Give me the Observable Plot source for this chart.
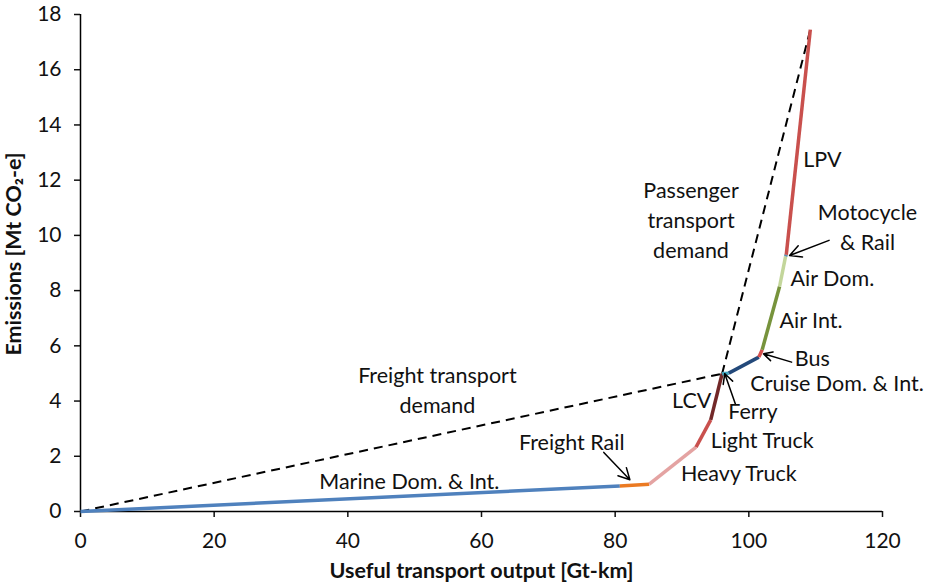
<!DOCTYPE html>
<html>
<head>
<meta charset="utf-8">
<script src="https://cdn.jsdelivr.net/npm/d3@7"></script>
<script src="https://cdn.jsdelivr.net/npm/@observablehq/plot@0.6"></script>
<style>
  html, body { margin: 0; padding: 0; background: #fff; }
</style>
</head>
<body>
<div id="chart"></div>
<script>
// Segments of the cumulative emissions curve
const segNames = ["Marine Dom. & Int.", "Freight Rail", "Heavy Truck", "Light Truck", "LCV", "Ferry",
  "Cruise Dom. & Int.", "Bus", "Air Int.", "Air Dom.", "Motocycle & Rail", "LPV"];
// Breakpoints (cumulative useful transport output, Gt-km; cumulative emissions, Mt CO2-e)
const cumOutput    = [0, 80.7, 85.1, 92.1, 94.3, 96.0, 97.0, 101.5, 102.0, 104.6, 105.5, 105.6, 109.2];
const cumEmissions = [0, 0.92, 0.99, 2.33, 3.32, 4.99, 5.01, 5.59, 5.86, 8.15, 9.24, 9.30, 17.45];
const segColors = ["#4f81bd", "#eb7a22", "#e4a3a2", "#c9504d", "#722828", "#45a5be",
  "#23497a", "#d6504e", "#77933c", "#c3d69b", "#5b8fb0", "#c9504d"];

// Demand lines (index into breakpoints): freight start→end, passenger start→end
const demandNames = ["Freight", "Passenger"];
const demandFrom = [0, 5];
const demandTo = [5, 12];

// Text labels
const labelText = ["Marine Dom. & Int.", "Freight Rail", "Heavy Truck", "Light Truck", "LCV", "Ferry",
  "Cruise Dom. & Int.", "Bus", "Air Int.", "Air Dom.", "Motocycle\n& Rail", "LPV",
  "Passenger\ntransport\ndemand", "Freight transport\ndemand"];
const labelX = [49.2, 73.5, 98.5, 102.0, 91.45, 100.6, 113.2, 109.5, 109.3, 112.5, 117.75, 111.0, 91.35, 53.4];
const labelY = [1.17, 2.59, 1.44, 2.65, 4.09, 3.68, 4.72, 5.60, 6.99, 8.52, 10.37, 12.81, 10.61, 4.45];

// Annotation arrows (tail → tip)
const arrowX1 = [78.3, 98.0, 106.4, 112.0];
const arrowY1 = [2.14, 3.88, 5.41, 9.82];
const arrowX2 = [82.2, 96.4, 102.2, 106.1];
const arrowY2 = [1.15, 4.99, 5.71, 9.27];

const xTicks = [0, 20, 40, 60, 80, 100, 120];
const yTicks = [0, 2, 4, 6, 8, 10, 12, 14, 16, 18];
const xTitle = "Useful transport output [Gt-km]";
const yTitle = "Emissions [Mt CO\u2082-e]";

const segments = segNames.map((name, i) => ({
  name, color: segColors[i],
  x1: cumOutput[i], y1: cumEmissions[i], x2: cumOutput[i + 1], y2: cumEmissions[i + 1]
}));
const demand = demandNames.map((name, i) => ({
  name,
  x1: cumOutput[demandFrom[i]], y1: cumEmissions[demandFrom[i]],
  x2: cumOutput[demandTo[i]], y2: cumEmissions[demandTo[i]]
}));
const labels = labelText.map((t, i) => ({ t, x: labelX[i], y: labelY[i] }));
const arrows = arrowX1.map((x1, i) => ({ x1, y1: arrowY1[i], x2: arrowX2[i], y2: arrowY2[i] }));

const chart = Plot.plot({
  width: 925,
  height: 585,
  marginLeft: 80,
  marginRight: 43,
  marginTop: 14,
  marginBottom: 74,
  style: { fontFamily: "Lato, sans-serif", fontSize: "21px", color: "#111", background: "white" },
  x: { domain: [0, 120] },
  y: { domain: [0, 18] },
  marks: [
    Plot.axisX({ ticks: xTicks, tickSize: 6, tickPadding: 16, label: null, strokeWidth: 1.5, fontSize: 21 }),
    Plot.axisY({ ticks: yTicks, tickSize: 6, tickPadding: 13, label: null, strokeWidth: 1.5, fontSize: 21 }),
    Plot.ruleX([0], { stroke: "black", strokeWidth: 1.5 }),
    Plot.ruleY([0], { stroke: "black", strokeWidth: 1.5 }),
    Plot.link(demand, { x1: "x1", y1: "y1", x2: "x2", y2: "y2", stroke: "black", strokeWidth: 2, strokeDasharray: "9,6" }),
    Plot.link(segments, { x1: "x1", y1: "y1", x2: "x2", y2: "y2", stroke: "color", strokeWidth: 3.5, strokeLinecap: "butt" }),
    Plot.arrow(arrows, { x1: "x1", y1: "y1", x2: "x2", y2: "y2", bend: 0, stroke: "black", strokeWidth: 1.5, headLength: 13, headAngle: 55 }),
    Plot.text(labels, { x: "x", y: "y", text: "t", fontSize: 21.5, lineHeight: 1.39, textAnchor: "middle", lineAnchor: "middle", fill: "#111" }),
    Plot.text([xTitle], { frameAnchor: "bottom", dy: 60, textAnchor: "middle", lineAnchor: "middle", fontSize: 21.5, fontWeight: "bold", fill: "#111" }),
    Plot.text([yTitle], { frameAnchor: "left", dx: -66, dy: -9, rotate: -90, textAnchor: "middle", lineAnchor: "middle", fontSize: 21.5, fontWeight: "bold", fill: "#111" })
  ]
});
document.getElementById("chart").appendChild(chart);
</script>
</body>
</html>
